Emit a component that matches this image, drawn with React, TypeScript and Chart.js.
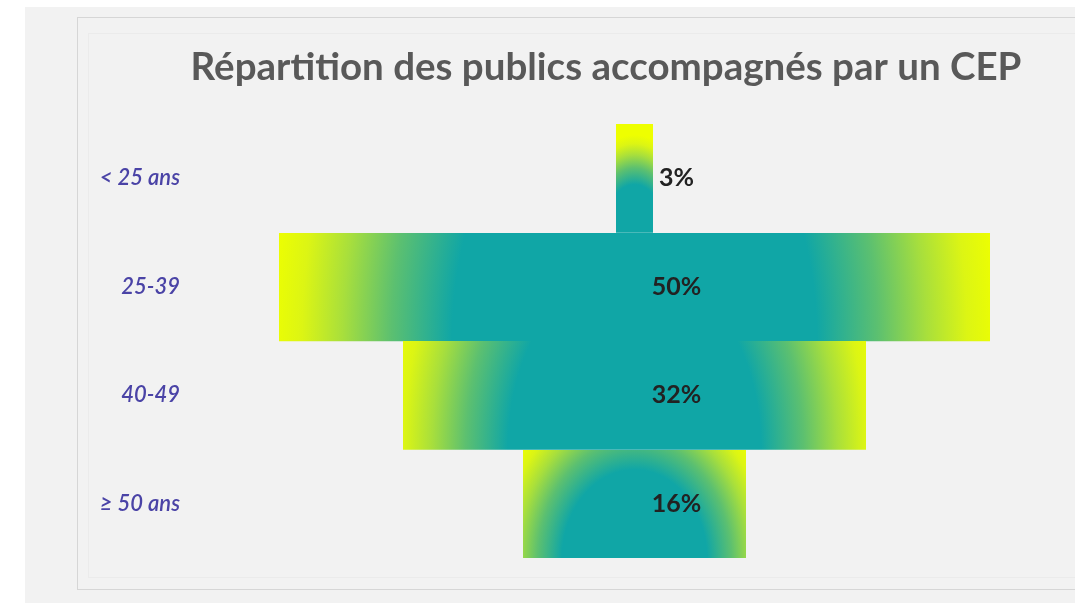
import React, { useEffect, useRef } from 'react';
import { Chart, registerables } from 'chart.js';

Chart.register(...registerables);

const titleText = 'Répartition des publics accompagnés par un CEP';
const categories = ['< 25 ans', '25-39', '40-49', '≥ 50 ans'];
const shares = [2.6, 49.6, 32.3, 15.5];
const shareLabels = ['3%', '50%', '32%', '16%'];

const TEAL = '#10a6a6';

function barFill(c: any) {
  const chart = c.chart;
  const xs = chart.scales?.x;
  const ys = chart.scales?.y;
  if (!xs || !ys || !chart.chartArea) return TEAL;
  const v = shares[c.dataIndex];
  const left = Math.round(xs.getPixelForValue(-v / 2));
  const right = Math.round(xs.getPixelForValue(v / 2));
  const band = chart.chartArea.height / categories.length;
  const top = Math.round(ys.getPixelForValue(c.dataIndex) - band / 2);
  const W = Math.max(1, right - left);
  const H = Math.max(1, Math.ceil(band) + 1);
  const off = document.createElement('canvas');
  off.width = W;
  off.height = H;
  const o = off.getContext('2d');
  if (!o) return TEAL;
  const rx = W / 2 + 50;
  const ry = Math.max(H, W * 0.9);
  o.save();
  o.translate(W / 2, H);
  o.scale(rx, ry);
  const g = o.createRadialGradient(0, 0, 0, 0, 0, 1);
  g.addColorStop(0, TEAL);
  g.addColorStop(0.45, TEAL);
  g.addColorStop(0.6, '#5cc070');
  g.addColorStop(0.72, '#a8df3c');
  g.addColorStop(0.82, '#dcf514');
  g.addColorStop(0.9, '#eeff00');
  g.addColorStop(1, '#eeff00');
  o.fillStyle = g;
  o.fillRect(-W / rx, -H / ry - 0.1, (2 * W) / rx, (2 * H) / ry + 0.2);
  o.restore();
  const pat = chart.ctx.createPattern(off, 'no-repeat');
  if (!pat) return TEAL;
  pat.setTransform(new DOMMatrix([1, 0, 0, 1, left, top]));
  return pat;
}

const valueLabels = {
  id: 'valueLabels',
  afterDatasetsDraw(chart: any) {
    const meta = chart.getDatasetMeta(0);
    const xs = chart.scales.x;
    const ctx = chart.ctx;
    ctx.save();
    ctx.font = 'bold 25px Lato';
    ctx.fillStyle = '#222222';
    ctx.textAlign = 'center';
    ctx.textBaseline = 'middle';
    meta.data.forEach((el: any, i: number) => {
      const p = el.getProps(['y'], true);
      ctx.fillText(shareLabels[i], xs.getPixelForValue(0) + 42, p.y);
    });
    ctx.restore();
  },
};

export default function App() {
  const ref = useRef<HTMLCanvasElement>(null);
  useEffect(() => {
    if (!ref.current) return;
    const chart = new Chart(ref.current, {
      type: 'bar',
      data: {
        labels: categories,
        datasets: [
          {
            data: shares.map((v) => [-v / 2, v / 2]) as any,
            backgroundColor: barFill as any,
            borderWidth: 0,
            barPercentage: 1,
            categoryPercentage: 1,
          },
        ],
      },
      options: {
        indexAxis: 'y',
        animation: false,
        responsive: true,
        maintainAspectRatio: false,
        layout: { padding: { left: 0, right: 53, top: 0, bottom: 45 } },
        plugins: {
          legend: { display: false },
          tooltip: { enabled: false },
          title: {
            display: true,
            fullSize: false,
            text: titleText,
            color: '#595959',
            font: { family: 'Lato', weight: 'bold', size: 38.5 },
            padding: { top: 44.9, bottom: 32.9 },
          },
        },
        scales: {
          x: { display: false, min: -30.98, max: 27.0 },
          y: {
            grid: { display: false, drawTicks: false },
            border: { display: false },
            ticks: {
              color: '#4a43a6',
              font: { family: 'Lato', style: 'italic', weight: '600', size: 22 },
              padding: 10,
            },
            afterFit: (s: any) => {
              s.width = 190;
            },
          },
        },
      },
      plugins: [valueLabels],
    });
    return () => chart.destroy();
  }, []);

  return (
    <div style={{ position: 'absolute', left: 0, top: 0, width: 1075, height: 603, background: '#ffffff', overflow: 'hidden' }}>
      <div style={{ position: 'absolute', left: 25, top: 7, right: 0, bottom: 0, background: '#f2f2f2' }} />
      <div style={{ position: 'absolute', left: 77, top: 17, width: 1100, height: 573, border: '1px solid #d6d6d6', boxSizing: 'border-box' }} />
      <div style={{ position: 'absolute', left: 88, top: 33, width: 1100, height: 545, border: '1px solid #ebebeb', boxSizing: 'border-box' }} />
      <div style={{ position: 'absolute', left: 0, top: 0, width: 1075, height: 603 }}>
        <canvas ref={ref} />
      </div>
    </div>
  );
}
